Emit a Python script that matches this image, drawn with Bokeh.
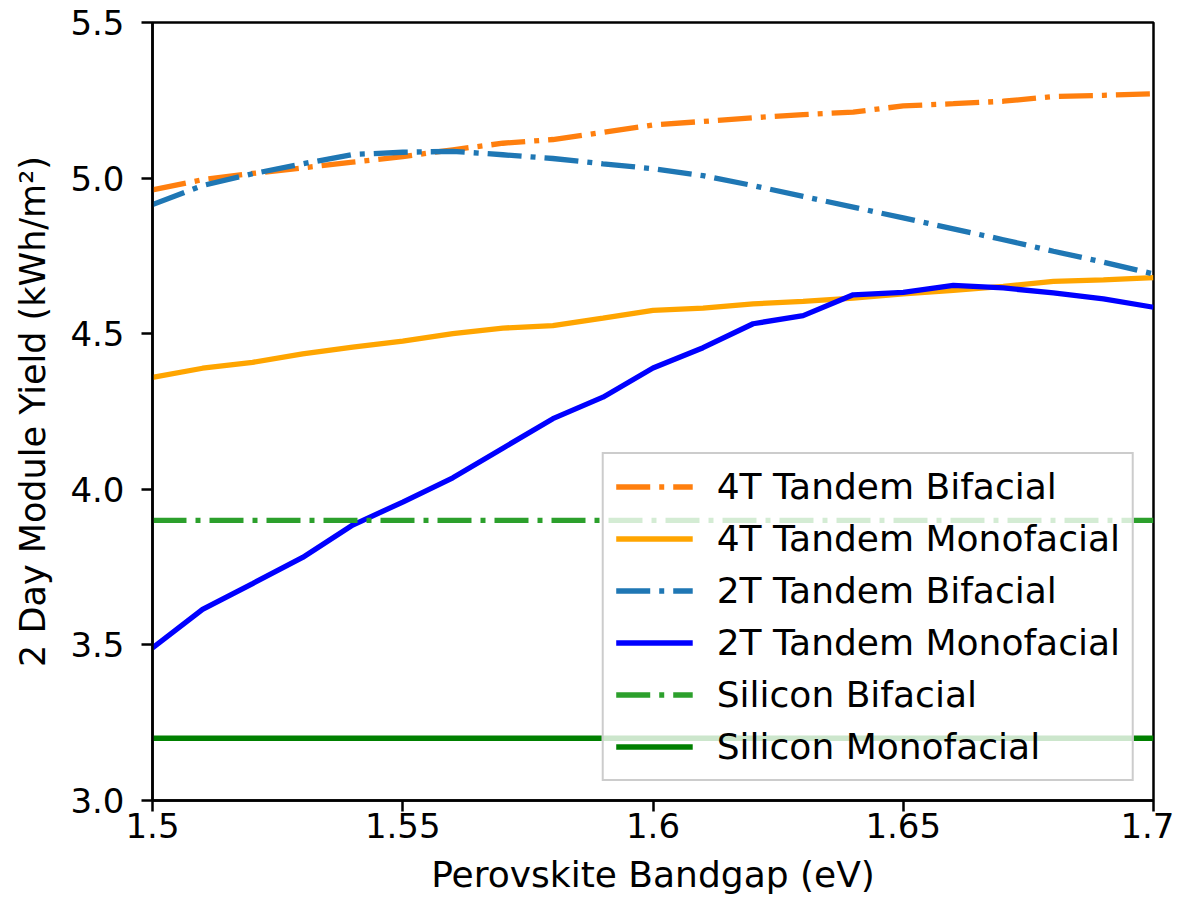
from bokeh.plotting import figure
from bokeh.models import Range1d, FixedTicker, Legend, LegendItem
from bokeh.embed import file_html
from bokeh.resources import INLINE

bandgap = [1.50, 1.51, 1.52, 1.53, 1.54, 1.55, 1.56, 1.57, 1.58, 1.59, 1.60,
           1.61, 1.62, 1.63, 1.64, 1.65, 1.66, 1.67, 1.68, 1.69, 1.70]

tandem4t_bifacial = [4.962, 4.995, 5.015, 5.033, 5.051, 5.069, 5.091, 5.112, 5.124, 5.147, 5.171,
                     5.182, 5.194, 5.204, 5.212, 5.232, 5.239, 5.247, 5.262, 5.266, 5.271]
tandem4t_monofacial = [4.360, 4.389, 4.408, 4.435, 4.457, 4.476, 4.500, 4.518, 4.526, 4.550, 4.575,
                       4.582, 4.596, 4.604, 4.614, 4.628, 4.639, 4.652, 4.668, 4.673, 4.680]
tandem2t_bifacial = [4.915, 4.976, 5.014, 5.046, 5.076, 5.083, 5.086, 5.075, 5.063, 5.046, 5.030,
                     5.008, 4.976, 4.941, 4.907, 4.872, 4.837, 4.802, 4.765, 4.730, 4.692]
tandem2t_monofacial = [3.490, 3.614, 3.697, 3.781, 3.885, 3.959, 4.037, 4.132, 4.227, 4.296, 4.390,
                       4.455, 4.532, 4.558, 4.625, 4.633, 4.655, 4.647, 4.631, 4.612, 4.585]
silicon_bifacial = [3.9] * len(bandgap)
silicon_monofacial = [3.2] * len(bandgap)

series_names = ["4T Tandem Bifacial", "4T Tandem Monofacial", "2T Tandem Bifacial",
                "2T Tandem Monofacial", "Silicon Bifacial", "Silicon Monofacial"]
series_values = [tandem4t_bifacial, tandem4t_monofacial, tandem2t_bifacial,
                 tandem2t_monofacial, silicon_bifacial, silicon_monofacial]
series_colors = ["#ff7f0e", "#ffa500", "#1f77b4", "#0000ff", "#2ca02c", "#008000"]
series_dashes = ["34 9 5 9", "solid", "34 9 5 9", "solid", "34 9 5 9", "solid"]

x_ticks = [1.5, 1.55, 1.6, 1.65, 1.7]
x_tick_labels = ["1.5", "1.55", "1.6", "1.65", "1.7"]
y_ticks = [3.0, 3.5, 4.0, 4.5, 5.0, 5.5]
y_tick_labels = ["3.0", "3.5", "4.0", "4.5", "5.0", "5.5"]

FONT = "DejaVu Sans"

p = figure(width=1174, height=903, output_backend="svg", toolbar_location=None,
           x_range=Range1d(1.5, 1.7), y_range=Range1d(3.0, 5.5),
           min_border_left=152, min_border_right=21, min_border_top=22, min_border_bottom=103)

p.xgrid.visible = False
p.ygrid.visible = False
p.outline_line_color = "black"
p.outline_line_width = 2.5
p.background_fill_color = "white"
p.border_fill_color = "white"

items = []
for name, vals, col, dash in zip(series_names, series_values, series_colors, series_dashes):
    r = p.line(bandgap, vals, line_color=col, line_width=5.3, line_dash=dash)
    items.append(LegendItem(label=name, renderers=[r]))

for ax in (p.xaxis[0], p.yaxis[0]):
    ax.axis_line_color = "black"
    ax.axis_line_width = 2.5
    ax.major_tick_line_color = "black"
    ax.major_tick_line_width = 2.5
    ax.major_tick_out = 11
    ax.major_tick_in = 0
    ax.minor_tick_line_color = None
    ax.major_label_text_font = FONT
    ax.major_label_text_font_size = "34px"
    ax.major_label_text_color = "black"
    ax.axis_label_text_font = FONT
    ax.axis_label_text_font_style = "normal"
    ax.axis_label_text_color = "black"

p.xaxis.ticker = FixedTicker(ticks=x_ticks)
p.xaxis.major_label_overrides = {t: l for t, l in zip(x_ticks, x_tick_labels)}
p.yaxis.ticker = FixedTicker(ticks=y_ticks)
p.yaxis.major_label_overrides = {t: l for t, l in zip(y_ticks, y_tick_labels)}
p.xaxis.axis_label = "Perovskite Bandgap (eV)"
p.yaxis.axis_label = "2 Day Module Yield (kWh/m²)"
p.xaxis.axis_label_text_font_size = "36px"
p.yaxis.axis_label_text_font_size = "35px"
p.xaxis.major_label_standoff = 1
p.yaxis.major_label_standoff = 17
p.xaxis.axis_label_standoff = 13
p.yaxis.axis_label_standoff = 14

legend = Legend(items=items, location="bottom_right")
legend.margin = 19
legend.padding = 12
legend.spacing = 11
legend.label_height = 41
legend.glyph_height = 41
legend.glyph_width = 77
legend.label_standoff = 24
legend.label_text_font = FONT
legend.label_text_font_size = "36px"
legend.label_text_color = "black"
legend.background_fill_color = "white"
legend.background_fill_alpha = 0.8
legend.border_line_color = "#cccccc"
legend.border_line_width = 2
legend.border_line_alpha = 1.0
p.add_layout(legend)

open("out.html", "w").write(file_html(p, INLINE))
